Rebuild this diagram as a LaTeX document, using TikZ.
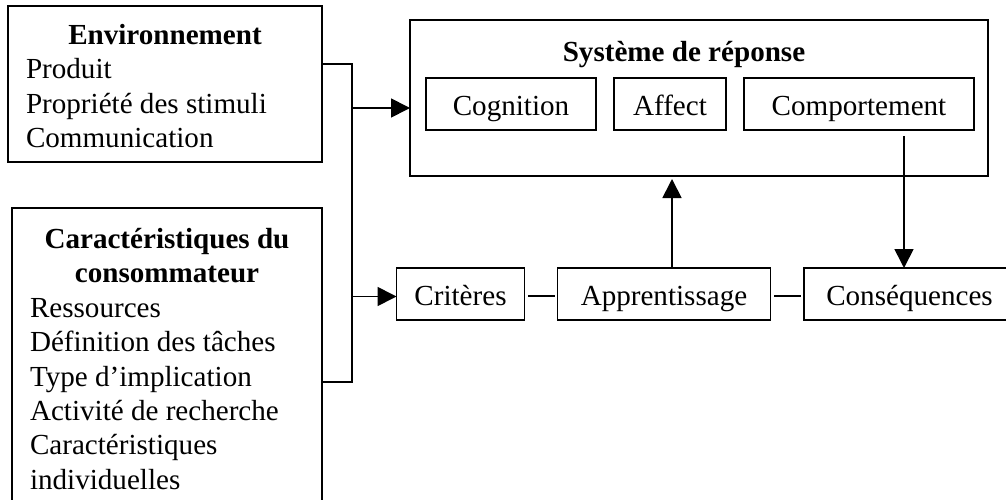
\documentclass[tikz,border=0pt]{standalone}
\usepackage{fontspec}
\setmainfont{Liberation Serif}
\usetikzlibrary{arrows.meta}
\newcommand{\reffont}{\fontsize{29.1}{34.4}\selectfont}
\newcommand{\natspace}{\spaceskip=0.25em\relax}
\tikzset{
  x=1pt,y=-1pt,
  conn/.style={line width=1.7pt,draw=black},
  flow/.style={conn,-{Triangle[length=19pt,width=19pt]}},
  boxbase/.style={draw=black,line width=1.7pt,inner sep=0pt,font=\reffont,outer sep=0pt},
  listbox/.style={boxbase,align=left},
  itembox/.style={boxbase,minimum height=52pt,text height=28pt,text depth=4pt},
  heading/.style={inner sep=0pt,font=\reffont\bfseries},
}
\newcommand{\boxtitle}[1]{\makebox[\linewidth][c]{\bfseries\natspace #1}}
\begin{document}
\begin{tikzpicture}
\useasboundingbox (0,0) rectangle (1006,500);
\clip (0,0) rectangle (1006,500);
% left boxes
\node[listbox,minimum width=314pt,minimum height=156pt,text width=278pt] (env) at (165,84)
  {\natspace\rule{0pt}{24.5pt}\boxtitle{Environnement}\\Produit\\Propriété des stimuli\\Communication};
\node[listbox,minimum width=310pt,minimum height=302pt,text width=274pt] (car) at (167,359)
  {\natspace\boxtitle{Caractéristiques du}\\\boxtitle{consommateur}\\Ressources\\Définition des tâches\\Type d’implication\\Activité de recherche\\Caractéristiques\\individuelles};
% response system
\node[boxbase,minimum width=578pt,minimum height=156pt] (sys) at (699,98) {};
\node[heading,anchor=base] (systitle) at (684,62) {Système de réponse};
\node[itembox,minimum width=170pt] (cog) at (511,104) {Cognition};
\node[itembox,minimum width=112pt] (aff) at (670,104) {Affect};
\node[itembox,minimum width=230pt] (com) at (859,104) {Comportement};
% lower row
\node[itembox,minimum width=128pt,text height=26pt] (cri) at (460.5,294) {Critères};
\node[itembox,minimum width=213pt,text height=26pt] (app) at (664,294) {Apprentissage};
\node[itembox,minimum width=211pt,text height=26pt] (cons) at (909.5,294) {Conséquences};
% free ends
\coordinate (trunkA) at (352,64);
\coordinate (trunkB) at (352,382);
\coordinate (branchA) at (353,108);
\coordinate (branchB) at (353,296.5);
\coordinate (gapA1) at (528,296);
\coordinate (gapA2) at (554.7,296);
\coordinate (gapB1) at (774,296);
\coordinate (gapB2) at (800.7,296);
\coordinate (downstart) at (904,136);
\coordinate (upend) at (672,179);
% connectors
\draw[conn] (env.east |- trunkA) -- (trunkA) -- (trunkB) -- (car.east |- trunkB);
\draw[flow] (branchA) -- (sys.west |- branchA);
\draw[flow] (branchB) -- (cri.west |- branchB);
\draw[conn] (gapA1) -- (gapA2);
\draw[conn] (gapB1) -- (gapB2);
\draw[flow] (app.north -| upend) -- (upend);
\draw[flow] (downstart) -- (cons.north -| downstart);
\end{tikzpicture}
\end{document}
